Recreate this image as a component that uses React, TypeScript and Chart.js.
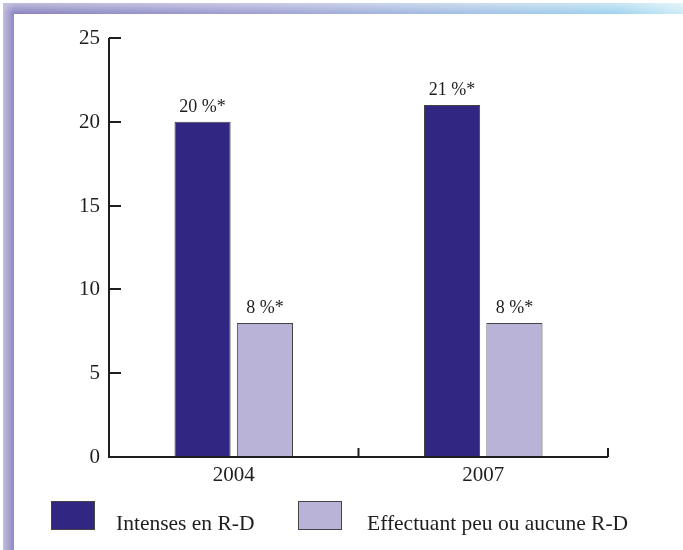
import React, { useEffect, useRef } from "react";
import { Chart, registerables } from "chart.js";

Chart.register(...registerables);

const years = ["2004", "2007"];
const intensiveRD = [20, 21];
const lowOrNoRD = [8, 8];
const yTicks = [0, 5, 10, 15, 20, 25];
const seriesNames = ["Intenses en R-D", "Effectuant peu ou aucune R-D"];
const valueLabels = [
  ["20 %*", "21 %*"],
  ["8 %*", "8 %*"],
];

const DARK = "#312783";
const LIGHT = "#b8b3d7";
const INK = "#1e1e1e";
const SERIF = '"Liberation Serif", "DejaVu Serif", serif';

// Soft purple-to-blue frame along the top and left edges
const framePlugin = {
  id: "frame",
  beforeDraw(chart: Chart) {
    const { ctx, width, height } = chart;
    ctx.save();
    ctx.fillStyle = "#ffffff";
    ctx.fillRect(0, 0, width, height);

    const top = 3;
    const band = 11;
    const left = 3;

    // top band: horizontal colour ramp
    const hg = ctx.createLinearGradient(left, 0, width, 0);
    hg.addColorStop(0, "#8883bf");
    hg.addColorStop(0.35, "#9e9dd0");
    hg.addColorStop(0.7, "#a4c2e6");
    hg.addColorStop(0.9, "#9fd3ee");
    hg.addColorStop(1, "#cdebf6");
    ctx.fillStyle = hg;
    ctx.fillRect(left, top, width - left, band);

    // left band
    ctx.fillStyle = "#8e89c3";
    ctx.fillRect(left, top, band, height - top);

    // light sheen on the outer edges
    const vg = ctx.createLinearGradient(0, top, 0, top + band);
    vg.addColorStop(0, "rgba(255,255,255,0.45)");
    vg.addColorStop(1, "rgba(255,255,255,0)");
    ctx.fillStyle = vg;
    ctx.fillRect(left + band, top, width - left - band, band);

    const lg = ctx.createLinearGradient(left, 0, left + band, 0);
    lg.addColorStop(0, "rgba(255,255,255,0.45)");
    lg.addColorStop(1, "rgba(255,255,255,0)");
    ctx.fillStyle = lg;
    ctx.fillRect(left, top + band, band, height - top - band);

    const cg = ctx.createRadialGradient(left + band, top + band, 0, left + band, top + band, band);
    cg.addColorStop(0, "rgba(255,255,255,0)");
    cg.addColorStop(1, "rgba(255,255,255,0.45)");
    ctx.fillStyle = cg;
    ctx.fillRect(left, top, band, band);
    ctx.restore();
  },
};

// Axes, ticks, value labels and legend drawn from the chart's scales
const decorPlugin = {
  id: "decor",
  afterDatasetsDraw(chart: Chart) {
    const { ctx, chartArea } = chart;
    const x = chart.scales.x;
    const y = chart.scales.y;
    ctx.save();
    ctx.strokeStyle = INK;
    ctx.fillStyle = INK;
    ctx.lineWidth = 2;

    // y axis line and inward ticks
    ctx.beginPath();
    ctx.moveTo(chartArea.left, y.getPixelForValue(yTicks[yTicks.length - 1]));
    ctx.lineTo(chartArea.left, y.getPixelForValue(0));
    ctx.stroke();
    ctx.font = `21px ${SERIF}`;
    ctx.textAlign = "right";
    ctx.textBaseline = "middle";
    yTicks.forEach((v) => {
      const py = Math.round(y.getPixelForValue(v));
      if (v !== 0) {
        ctx.beginPath();
        ctx.moveTo(chartArea.left, py);
        ctx.lineTo(chartArea.left + 12, py);
        ctx.stroke();
      }
      ctx.fillText(String(v), chartArea.left - 9, py);
    });

    // x axis line and category boundary ticks
    const base = y.getPixelForValue(0);
    ctx.beginPath();
    ctx.moveTo(chartArea.left - 1, base);
    ctx.lineTo(chartArea.right, base);
    ctx.stroke();
    const step = (chartArea.right - chartArea.left) / years.length;
    for (let i = 1; i <= years.length; i++) {
      const px = chartArea.left + step * i;
      ctx.beginPath();
      ctx.moveTo(px, base);
      ctx.lineTo(px, base - 9);
      ctx.stroke();
    }
    ctx.textAlign = "center";
    ctx.textBaseline = "alphabetic";
    ctx.font = `21px ${SERIF}`;
    years.forEach((label, i) => {
      ctx.fillText(label, x.getPixelForValue(i), base + 24);
    });

    // value labels above each bar
    ctx.font = `18px ${SERIF}`;
    chart.data.datasets.forEach((_, di) => {
      const meta = chart.getDatasetMeta(di);
      meta.data.forEach((bar: any, i: number) => {
        ctx.fillText(valueLabels[di][i], bar.x, bar.y - 10);
      });
    });

    // legend
    const swatches = [
      { x: 51, text: 116, color: DARK },
      { x: 298, text: 367, color: LIGHT },
    ];
    ctx.font = `21.5px ${SERIF}`;
    ctx.textAlign = "left";
    swatches.forEach((s, i) => {
      ctx.fillStyle = s.color;
      ctx.fillRect(s.x, 501, 44, 29);
      ctx.strokeStyle = "#444444";
      ctx.lineWidth = 1;
      ctx.strokeRect(s.x + 0.5, 501.5, 43, 28);
      ctx.fillStyle = INK;
      ctx.fillText(seriesNames[i], s.text, 530);
    });
    ctx.restore();
  },
};

export default function App() {
  const canvasRef = useRef<HTMLCanvasElement | null>(null);

  useEffect(() => {
    if (!canvasRef.current) return;
    const chart = new Chart(canvasRef.current, {
      type: "bar",
      data: {
        labels: years,
        datasets: [
          {
            label: seriesNames[0],
            data: intensiveRD,
            backgroundColor: DARK,
            borderColor: "#444444",
            borderWidth: 1,
            borderSkipped: false,
            categoryPercentage: 0.5,
            barPercentage: 0.9,
          },
          {
            label: seriesNames[1],
            data: lowOrNoRD,
            backgroundColor: LIGHT,
            borderColor: "#444444",
            borderWidth: 1,
            borderSkipped: false,
            categoryPercentage: 0.5,
            barPercentage: 0.9,
          },
        ],
      },
      options: {
        responsive: false,
        animation: false,
        devicePixelRatio: 1,
        layout: { padding: { left: 109, right: 75, top: 38, bottom: 93 } },
        plugins: { legend: { display: false }, tooltip: { enabled: false } },
        scales: {
          x: { display: false },
          y: { display: false, min: 0, max: 25 },
        },
      },
      plugins: [framePlugin, decorPlugin],
    });
    return () => chart.destroy();
  }, []);

  return (
    <div style={{ position: "absolute", left: 0, top: 0, width: 683, height: 550 }}>
      <canvas ref={canvasRef} width={683} height={550} style={{ display: "block" }} />
    </div>
  );
}
